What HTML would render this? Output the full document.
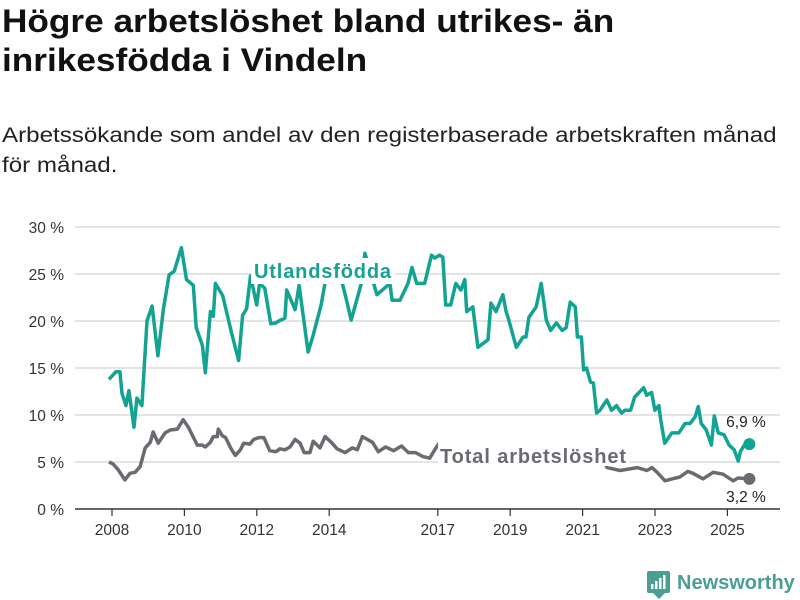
<!DOCTYPE html>
<html><head><meta charset="utf-8"><style>
body{margin:0;background:#fff;width:800px;height:600px;overflow:hidden;font-family:"Liberation Sans",sans-serif}
#title{position:absolute;left:2px;top:2px;font-size:32px;font-weight:bold;line-height:39px;color:#111;transform:scaleX(1.1);transform-origin:0 0;white-space:nowrap}
#sub{position:absolute;left:2px;top:121px;font-size:21px;line-height:30px;color:#222;transform:scaleX(1.15);transform-origin:0 0;white-space:nowrap}
svg{position:absolute;left:0;top:0}
</style></head><body>
<div id="title">Högre arbetslöshet bland utrikes- än<br>inrikesfödda i Vindeln</div>
<div id="sub">Arbetssökande som andel av den registerbaserade arbetskraften månad<br>för månad.</div>
<svg id="chart" width="800" height="600"></svg>
<script>
const yTicks=[0,5,10,15,20,25,30];
const xTickYears=[2008,2010,2012,2014,2017,2019,2021,2023,2025];
const foreignYears=[2008.0,2008.19,2008.3,2008.36,2008.47,2008.55,2008.69,2008.77,2008.91,2009.05,2009.19,2009.35,2009.5,2009.66,2009.8,2010.0,2010.14,2010.33,2010.41,2010.58,2010.66,2010.8,2010.88,2010.94,2011.14,2011.38,2011.58,2011.69,2011.8,2011.91,2012.08,2012.16,2012.3,2012.47,2012.61,2012.69,2012.86,2012.91,2013.14,2013.25,2013.5,2013.64,2013.86,2013.97,2014.3,2014.55,2014.69,2014.97,2015.07,2015.4,2015.76,2015.82,2016.04,2016.26,2016.37,2016.5,2016.72,2016.91,2017.0,2017.13,2017.22,2017.3,2017.44,2017.58,2017.72,2017.83,2017.88,2018.05,2018.19,2018.47,2018.55,2018.69,2018.88,2018.97,2019.03,2019.25,2019.44,2019.52,2019.6,2019.8,2019.94,2020.08,2020.2,2020.36,2020.52,2020.63,2020.74,2020.88,2020.94,2021.05,2021.11,2021.19,2021.3,2021.38,2021.47,2021.56,2021.75,2021.88,2022.02,2022.16,2022.25,2022.41,2022.52,2022.77,2022.85,2022.99,2023.08,2023.19,2023.24,2023.35,2023.55,2023.74,2023.88,2023.91,2024.05,2024.19,2024.28,2024.36,2024.5,2024.64,2024.72,2024.83,2024.99,2025.13,2025.27,2025.38,2025.44,2025.55,2025.69];
const foreignVals=[13.8,14.6,14.6,12.3,11,12.6,8.7,11.8,11,20,21.6,16.3,21.2,24.9,25.3,27.8,24.4,23.8,19.3,17.4,14.5,21,20.5,24,22.7,18.8,15.8,20.6,21.3,24.8,21.7,24,23.5,19.7,19.8,20,20.3,23.3,21.2,23.8,16.7,18.5,21.7,24.1,26.2,22.4,20.1,24,27.2,22.8,24,22.2,22.2,24,25.7,24,24,27,26.7,27,26.8,21.7,21.7,24,23.3,24.4,21,21.5,17.2,18,21.9,21,22.8,21,20.3,17.2,18.3,18.3,20.4,21.5,24,20.1,19,19.8,19,19.3,22,21.5,18.3,18.3,14.8,15,13.5,13.4,10.2,10.5,11.6,10.5,11,10.2,10.5,10.5,11.9,12.9,12.1,12.4,10.5,11,9.5,7,8.1,8.1,8.9,9.1,9.1,9.8,10.9,9.1,8.4,6.8,9.9,8.1,7.9,6.8,6.3,5.1,6.1,6.8,6.9];
const totalYears=[2008.0,2008.11,2008.25,2008.44,2008.58,2008.72,2008.86,2009.0,2009.14,2009.22,2009.36,2009.55,2009.69,2009.89,2010.05,2010.19,2010.44,2010.58,2010.66,2010.8,2010.88,2010.99,2011.02,2011.13,2011.22,2011.36,2011.49,2011.63,2011.72,2011.89,2012.0,2012.14,2012.28,2012.44,2012.61,2012.72,2012.86,2013.0,2013.14,2013.28,2013.39,2013.55,2013.64,2013.83,2013.97,2014.14,2014.3,2014.52,2014.72,2014.86,2015.0,2015.28,2015.44,2015.64,2015.86,2016.08,2016.27,2016.47,2016.66,2016.86,2017.03,2017.12,2017.2,2017.8,2018.4,2019.0,2019.6,2020.2,2020.8,2021.4,2021.7,2021.76,2022.12,2022.59,2022.86,2023.0,2023.14,2023.36,2023.55,2023.77,2023.99,2024.13,2024.41,2024.69,2024.96,2025.24,2025.38,2025.69];
const totalVals=[5,4.8,4.2,3.1,3.8,3.9,4.5,6.5,7.1,8.2,7,8.1,8.4,8.5,9.5,8.7,6.8,6.8,6.6,7.1,7.7,7.7,8.5,7.8,7.6,6.5,5.7,6.3,7,6.9,7.4,7.6,7.6,6.2,6.1,6.4,6.3,6.6,7.4,7,6,6,7.2,6.5,7.7,7.1,6.4,6,6.5,6.3,7.7,7.1,6.1,6.6,6.2,6.7,6,6,5.6,5.4,6.5,7,6.9,5.8,5.6,5.4,5.2,5.1,5.0,5.0,4.9,4.4,4.1,4.4,4.1,4.4,3.9,3.0,3.2,3.4,4.0,3.8,3.2,3.9,3.7,3.0,3.3,3.2];
const NS='http://www.w3.org/2000/svg';
const svg=document.getElementById('chart');
const X0=75,X1=780;
function xs(yr){return 109+(yr-2008)*36.2;}
function ys(v){return 509-v*9.4;}
function mk(tag,attrs,parent){const e=document.createElementNS(NS,tag);for(const k in attrs)e.setAttribute(k,attrs[k]);(parent||svg).appendChild(e);return e;}
yTicks.forEach(t=>{
  if(t>0){const g=mk('line',{x1:X0,x2:X1,y1:ys(t),y2:ys(t),stroke:'#dcdcdc','stroke-width':1.5});
  
  }
  const l=mk('text',{x:64,y:ys(t)+6,'text-anchor':'end','font-size':15.5,fill:'#333'});
  l.textContent=t+' %';
  
  
});
const ax=mk('line',{x1:X0,x2:X1,y1:509,y2:509,stroke:'#333','stroke-width':1.5});


xTickYears.forEach(yr=>{
  const x=xs(yr)+3;
  const t=mk('line',{x1:x,x2:x,y1:509,y2:516,stroke:'#333','stroke-width':1.2});
  
  
  const l=mk('text',{x:x,y:535,'text-anchor':'middle','font-size':15.5,fill:'#333'});
  l.textContent=yr;
  
  
});
function path(xa,va){const n=Math.min(xa.length,va.length);let d='';for(let i=0;i<n;i++)d+=(i?'L':'M')+xs(xa[i]).toFixed(1)+','+ys(va[i]).toFixed(1);return d;}
const tp=mk('path',{d:path(totalYears,totalVals),fill:'none',stroke:'#6b6a70','stroke-width':3.5,'stroke-linejoin':'round'});


const fp=mk('path',{d:path(foreignYears,foreignVals),fill:'none',stroke:'#12a393','stroke-width':3.5,'stroke-linejoin':'round'});


const r1=mk('rect',{x:251,y:258,width:144,height:26,fill:'#fff'});


const l1=mk('text',{x:254,y:278,'font-size':20,'font-weight':'bold',fill:'#12a393',textLength:137});
l1.textContent='Utlandsfödda';


const r2=mk('rect',{x:438,y:440,width:192,height:26,fill:'#fff'});


const l2=mk('text',{x:440,y:463,'font-size':20,'font-weight':'bold',fill:'#6b6a70',textLength:186});
l2.textContent='Total arbetslöshet';


const fl=Math.min(foreignYears.length,foreignVals.length)-1,tl=Math.min(totalYears.length,totalVals.length)-1;
const d1=mk('circle',{cx:xs(foreignYears[fl]),cy:ys(foreignVals[fl]),r:6,fill:'#12a393'});


const d2=mk('circle',{cx:xs(totalYears[tl]),cy:ys(totalVals[tl]),r:6,fill:'#6b6a70'});


const v1=mk('text',{x:746,y:427,'text-anchor':'middle','font-size':15.5,fill:'#222'});
v1.textContent=foreignVals[fl].toFixed(1).replace('.',',')+' %';


const v2=mk('text',{x:746,y:502,'text-anchor':'middle','font-size':15.5,fill:'#222'});
v2.textContent=totalVals[tl].toFixed(1).replace('.',',')+' %';


const lg=mk('g',{});


mk('rect',{x:647,y:571,width:23,height:22,rx:2,fill:'#4a9e93'},lg);
mk('path',{d:'M653,593 L659,599 L665,593Z',fill:'#4a9e93'},lg);
mk('rect',{x:651,y:584,width:2.5,height:5,fill:'#fff'},lg);
mk('rect',{x:655,y:581,width:2.5,height:8,fill:'#fff'},lg);
mk('rect',{x:659,y:578,width:2.5,height:11,fill:'#fff'},lg);
mk('rect',{x:663,y:575,width:2.5,height:14,fill:'#fff'},lg);
const lt=mk('text',{x:677,y:589,'font-size':20,'font-weight':'bold',fill:'#4a9e93'},lg);
lt.textContent='Newsworthy';
</script>
</body></html>
